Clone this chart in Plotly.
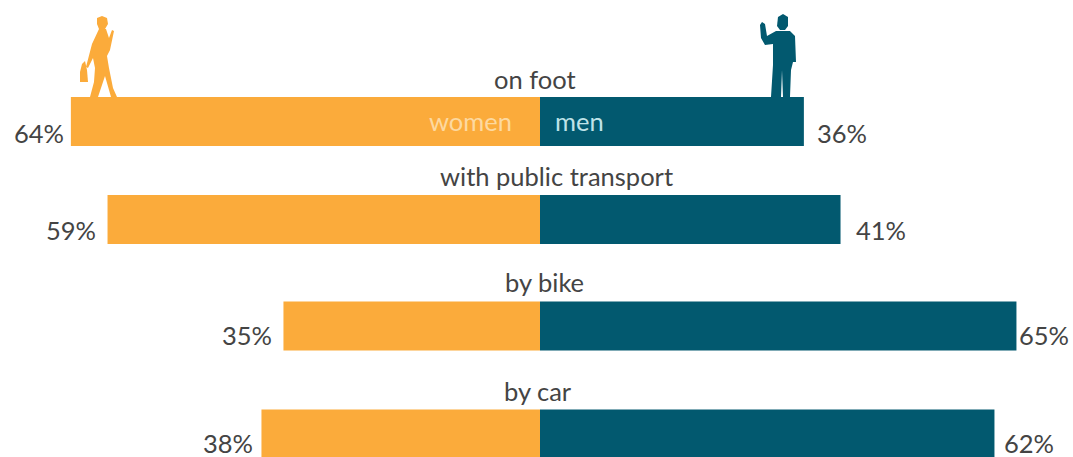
import plotly.graph_objects as go

WIDTH, HEIGHT = 1073, 457

# Share of trips by gender for each mode of travel
modes = ["on foot", "with public transport", "by bike", "by car"]
women = [64, 59, 35, 38]
men = [36, 41, 65, 62]

# Layout in page pixels
ROW_CENTRE = [121.5, 219.5, 326, 434]
BAR_HEIGHT = 49
CENTRE_X = 540
PX_PER_POINT = 7.33
MODE_LABEL_X = [535, 556, 544, 538]
MODE_LABEL_Y = [79, 176, 282, 391]
PCT_LABEL_Y = [133, 230, 335, 443]
WOMEN_PCT_RIGHT = [66, 98, 274, 255]
MEN_PCT_LEFT = [815, 854, 1017, 1002]

ORANGE = "#FBAB3B"
TEAL = "#02596F"
INK = "#444444"
FONT = "Lato"
TEXT_SIZE = 25.5


def px(points):
    """Turn a list of page-pixel points into a closed paper-space SVG path."""
    parts = [f"{x / WIDTH:.5f},{1 - y / HEIGHT:.5f}" for x, y in points]
    return "M" + " L".join(parts) + " Z"


woman_shapes = [
    [(97, 18), (102, 16), (107, 18), (108, 24), (105, 29), (99, 29), (97, 24)],
    [(99, 29), (106, 29), (109, 38), (112, 30), (114, 31), (110, 50), (107, 56),
     (109, 68), (113, 88), (117, 97), (111, 97), (105, 76), (98, 97), (90, 97),
     (94, 82), (95, 68), (93, 58), (88, 68), (86, 67), (92, 44)],
    [(80, 72), (82, 64), (85, 61), (87, 70), (88, 82), (80, 82)],
]
man_shapes = [
    [(778, 17), (783, 14), (788, 17), (788, 26), (785, 30), (780, 30), (777, 26)],
    [(760, 25), (762, 22), (765, 24), (767, 36), (776, 31), (790, 31), (795, 36),
     (796, 62), (793, 62), (791, 70), (790, 97), (783, 97), (782, 70), (781, 97),
     (771, 97), (773, 65), (773, 44), (765, 45), (761, 38)],
]

fig = go.Figure()
fig.add_bar(y=ROW_CENTRE, x=[-v for v in women], orientation="h", width=BAR_HEIGHT,
            marker=dict(color=ORANGE, line_width=0), showlegend=False, hoverinfo="skip")
fig.add_bar(y=ROW_CENTRE, x=men, orientation="h", width=BAR_HEIGHT,
            marker=dict(color=TEAL, line_width=0), showlegend=False, hoverinfo="skip")

annotations = []


def label(text, x, y, color=INK, xanchor="center"):
    annotations.append(dict(
        text=text, x=x / WIDTH, y=y, xref="paper", yref="y", showarrow=False,
        xanchor=xanchor, yanchor="middle",
        font=dict(family=FONT, size=TEXT_SIZE, color=color),
    ))


for mode, lx, ly in zip(modes, MODE_LABEL_X, MODE_LABEL_Y):
    label(mode, lx, ly)

for w, m, wx, mx, ly in zip(women, men, WOMEN_PCT_RIGHT, MEN_PCT_LEFT, PCT_LABEL_Y):
    label(f"{w}%", wx, ly, xanchor="right")
    label(f"{m}%", mx, ly, xanchor="left")

# Key printed inside the top bar
label("women", 470, ROW_CENTRE[0] - 1, color="#FDD9A0")
label("men", 579, ROW_CENTRE[0] - 1, color="#BFE3E8")

shapes = [
    dict(type="path", xref="paper", yref="paper", path=px(p), fillcolor=ORANGE, line_width=0)
    for p in woman_shapes
] + [
    dict(type="path", xref="paper", yref="paper", path=px(p), fillcolor=TEAL, line_width=0)
    for p in man_shapes
]

fig.update_layout(
    width=WIDTH, height=HEIGHT, autosize=False,
    margin=dict(l=0, r=0, t=0, b=0),
    barmode="relative", plot_bgcolor="white", paper_bgcolor="white",
    annotations=annotations, shapes=shapes,
    xaxis=dict(range=[-CENTRE_X / PX_PER_POINT, (WIDTH - CENTRE_X) / PX_PER_POINT],
               visible=False, fixedrange=True),
    yaxis=dict(range=[HEIGHT, 0], visible=False, fixedrange=True),
)
fig.write_html("out.html", config=dict(displayModeBar=False))
